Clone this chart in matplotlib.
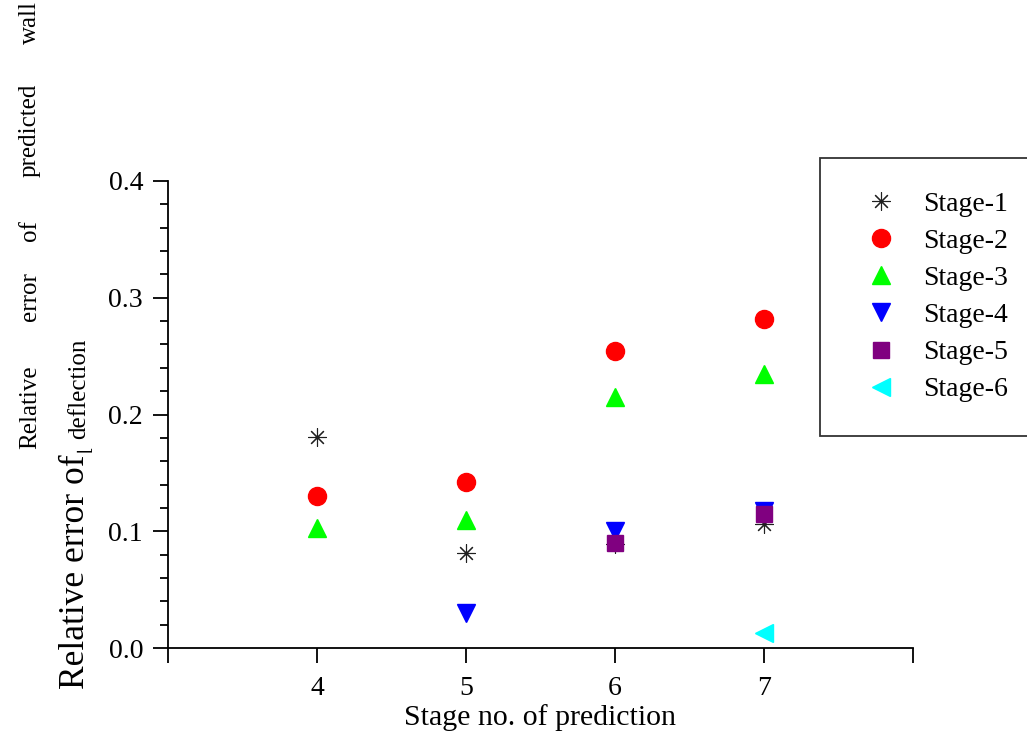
import matplotlib
matplotlib.use("Agg")
import matplotlib.pyplot as plt
from matplotlib.ticker import MultipleLocator, FormatStrFormatter

# data
stage_x = [4, 5, 6, 7]
stage1 = [0.181, 0.081, 0.089, 0.106]
stage2 = [0.130, 0.142, 0.254, 0.282]
stage3 = [0.103, 0.110, 0.215, 0.235]
stage4_x = [5, 6, 7]
stage4 = [0.030, 0.100, 0.117]
stage5_x = [6, 7]
stage5 = [0.090, 0.115]
stage6_x = [7]
stage6 = [0.013]

x_ticks = [3, 4, 5, 6, 7, 8]
x_tick_labels = ["", "4", "5", "6", "7", ""]
y_ticks = [0.0, 0.1, 0.2, 0.3, 0.4]

W, H = 1027, 743
plt.rcParams["font.family"] = ["Liberation Serif", "DejaVu Serif"]

fig = plt.figure(figsize=(W / 100, H / 100), dpi=100)
ax = fig.add_axes([168 / W, 1 - 648 / H, (913 - 168) / W, (648 - 181) / H])

ms = 13
ax.plot(stage_x, stage1, linestyle="none", marker=(8, 2, 0), markersize=ms,
        color="#202020", markeredgewidth=0.8, label="Stage-1")
ax.plot(stage_x, stage2, linestyle="none", marker="o", markersize=ms,
        color="#ff0000", label="Stage-2")
ax.plot(stage_x, stage3, linestyle="none", marker="^", markersize=ms,
        color="#00ff00", label="Stage-3")
ax.plot(stage4_x, stage4, linestyle="none", marker="v", markersize=ms,
        color="#0000ff", label="Stage-4")
ax.plot(stage5_x, stage5, linestyle="none", marker="s", markersize=11.5,
        color="#800080", label="Stage-5")
ax.plot(stage6_x, stage6, linestyle="none", marker="<", markersize=ms,
        color="#00ffff", label="Stage-6")

ax.set_xlim(3, 8)
ax.set_ylim(0, 0.4)
ax.set_xticks(x_ticks)
ax.set_xticklabels(x_tick_labels)
ax.set_yticks(y_ticks)
ax.yaxis.set_major_formatter(FormatStrFormatter("%.1f"))
ax.yaxis.set_minor_locator(MultipleLocator(0.02))

for s in ["top", "right"]:
    ax.spines[s].set_visible(False)
for s in ["left", "bottom"]:
    ax.spines[s].set_linewidth(1.3)
ax.tick_params(which="major", direction="out", length=11, width=1.3,
               labelsize=20, pad=7, colors="black")
ax.tick_params(axis="x", which="major", pad=9)
ax.tick_params(which="minor", direction="out", length=6, width=1.3)

ax.set_xlabel("Stage no. of prediction", fontsize=21.5, labelpad=2)

# split y label as in the original export
def fx(px):
    return px / W

def fy(py):
    return 1 - py / H

words = ["Relative", "error", "of", "predicted", "wall"]
word_y = [407, 297, 231, 130, 22]
for w, yy in zip(words, word_y):
    fig.text(fx(30), fy(yy), w, rotation=90, ha="center", va="center",
             fontsize=18)

fig.text(fx(75), fy(689), "Relative error of", rotation=90, ha="center",
         va="bottom", fontsize=25.5)
fig.text(fx(86), fy(452), "\u230a", rotation=90, ha="center", va="bottom",
         fontsize=12)
fig.text(fx(79), fy(439), "deflection", rotation=90, ha="center",
         va="bottom", fontsize=18)

leg = ax.legend(loc="upper left", bbox_to_anchor=(fx(820), fy(158), fx(260), 0),
                bbox_transform=fig.transFigure, mode="expand", fontsize=20,
                frameon=True, fancybox=False, borderpad=1.2, handlelength=2.0,
                handletextpad=0.5, labelspacing=0.42, borderaxespad=0)
leg.get_frame().set_edgecolor("black")
leg.get_frame().set_linewidth(1.3)

fig.savefig("out.png", dpi=100)
